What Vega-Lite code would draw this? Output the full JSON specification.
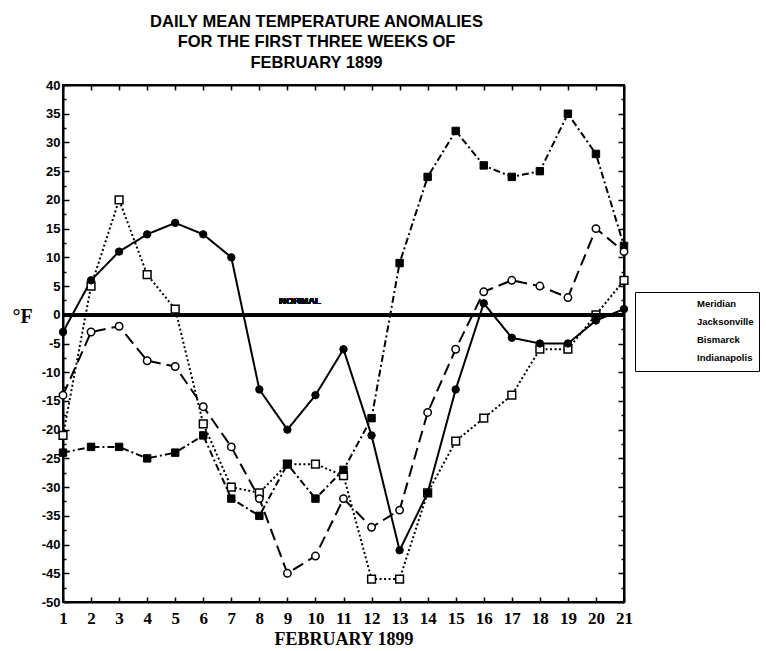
{
  "$schema": "https://vega.github.io/schema/vega-lite/v6.json",
  "width": 561,
  "height": 517,
  "autosize": {"type": "none"},
  "padding": {"left": 63, "top": 85, "right": 142, "bottom": 49},
  "background": "white",
  "config": {
    "view": {"stroke": "black", "strokeWidth": 2},
    "font": "Liberation Sans"
  },
  "title": {
    "text": ["DAILY MEAN TEMPERATURE ANOMALIES", "FOR THE FIRST THREE WEEKS OF", "FEBRUARY 1899"],
    "font": "Liberation Sans",
    "fontSize": 16.5,
    "fontWeight": "bold",
    "color": "black",
    "anchor": "middle",
    "dx": -27,
    "lineHeight": 20.5,
    "offset": 8
  },
  "datasets": {
    "temps": [
      {"day": 1, "series": "Meridian", "value": -21},
      {"day": 2, "series": "Meridian", "value": 5},
      {"day": 3, "series": "Meridian", "value": 20},
      {"day": 4, "series": "Meridian", "value": 7},
      {"day": 5, "series": "Meridian", "value": 1},
      {"day": 6, "series": "Meridian", "value": -19},
      {"day": 7, "series": "Meridian", "value": -30},
      {"day": 8, "series": "Meridian", "value": -31},
      {"day": 9, "series": "Meridian", "value": -26},
      {"day": 10, "series": "Meridian", "value": -26},
      {"day": 11, "series": "Meridian", "value": -28},
      {"day": 12, "series": "Meridian", "value": -46},
      {"day": 13, "series": "Meridian", "value": -46},
      {"day": 14, "series": "Meridian", "value": -31},
      {"day": 15, "series": "Meridian", "value": -22},
      {"day": 16, "series": "Meridian", "value": -18},
      {"day": 17, "series": "Meridian", "value": -14},
      {"day": 18, "series": "Meridian", "value": -6},
      {"day": 19, "series": "Meridian", "value": -6},
      {"day": 20, "series": "Meridian", "value": 0},
      {"day": 21, "series": "Meridian", "value": 6},
      {"day": 1, "series": "Jacksonville", "value": -3},
      {"day": 2, "series": "Jacksonville", "value": 6},
      {"day": 3, "series": "Jacksonville", "value": 11},
      {"day": 4, "series": "Jacksonville", "value": 14},
      {"day": 5, "series": "Jacksonville", "value": 16},
      {"day": 6, "series": "Jacksonville", "value": 14},
      {"day": 7, "series": "Jacksonville", "value": 10},
      {"day": 8, "series": "Jacksonville", "value": -13},
      {"day": 9, "series": "Jacksonville", "value": -20},
      {"day": 10, "series": "Jacksonville", "value": -14},
      {"day": 11, "series": "Jacksonville", "value": -6},
      {"day": 12, "series": "Jacksonville", "value": -21},
      {"day": 13, "series": "Jacksonville", "value": -41},
      {"day": 14, "series": "Jacksonville", "value": -31},
      {"day": 15, "series": "Jacksonville", "value": -13},
      {"day": 16, "series": "Jacksonville", "value": 2},
      {"day": 17, "series": "Jacksonville", "value": -4},
      {"day": 18, "series": "Jacksonville", "value": -5},
      {"day": 19, "series": "Jacksonville", "value": -5},
      {"day": 20, "series": "Jacksonville", "value": -1},
      {"day": 21, "series": "Jacksonville", "value": 1},
      {"day": 1, "series": "Bismarck", "value": -24},
      {"day": 2, "series": "Bismarck", "value": -23},
      {"day": 3, "series": "Bismarck", "value": -23},
      {"day": 4, "series": "Bismarck", "value": -25},
      {"day": 5, "series": "Bismarck", "value": -24},
      {"day": 6, "series": "Bismarck", "value": -21},
      {"day": 7, "series": "Bismarck", "value": -32},
      {"day": 8, "series": "Bismarck", "value": -35},
      {"day": 9, "series": "Bismarck", "value": -26},
      {"day": 10, "series": "Bismarck", "value": -32},
      {"day": 11, "series": "Bismarck", "value": -27},
      {"day": 12, "series": "Bismarck", "value": -18},
      {"day": 13, "series": "Bismarck", "value": 9},
      {"day": 14, "series": "Bismarck", "value": 24},
      {"day": 15, "series": "Bismarck", "value": 32},
      {"day": 16, "series": "Bismarck", "value": 26},
      {"day": 17, "series": "Bismarck", "value": 24},
      {"day": 18, "series": "Bismarck", "value": 25},
      {"day": 19, "series": "Bismarck", "value": 35},
      {"day": 20, "series": "Bismarck", "value": 28},
      {"day": 21, "series": "Bismarck", "value": 12},
      {"day": 1, "series": "Indianapolis", "value": -14},
      {"day": 2, "series": "Indianapolis", "value": -3},
      {"day": 3, "series": "Indianapolis", "value": -2},
      {"day": 4, "series": "Indianapolis", "value": -8},
      {"day": 5, "series": "Indianapolis", "value": -9},
      {"day": 6, "series": "Indianapolis", "value": -16},
      {"day": 7, "series": "Indianapolis", "value": -23},
      {"day": 8, "series": "Indianapolis", "value": -32},
      {"day": 9, "series": "Indianapolis", "value": -45},
      {"day": 10, "series": "Indianapolis", "value": -42},
      {"day": 11, "series": "Indianapolis", "value": -32},
      {"day": 12, "series": "Indianapolis", "value": -37},
      {"day": 13, "series": "Indianapolis", "value": -34},
      {"day": 14, "series": "Indianapolis", "value": -17},
      {"day": 15, "series": "Indianapolis", "value": -6},
      {"day": 16, "series": "Indianapolis", "value": 4},
      {"day": 17, "series": "Indianapolis", "value": 6},
      {"day": 18, "series": "Indianapolis", "value": 5},
      {"day": 19, "series": "Indianapolis", "value": 3},
      {"day": 20, "series": "Indianapolis", "value": 15},
      {"day": 21, "series": "Indianapolis", "value": 11}
    ]
  },
  "data": {"name": "temps"},
  "resolve": {"axis": {"x": "independent", "y": "independent"}},
  "layer": [
    {
      "mark": {"type": "line", "color": "black", "strokeWidth": 2},
      "encoding": {
        "x": {
          "field": "day", "type": "quantitative",
          "scale": {"domain": [1, 21], "nice": false, "zero": false},
          "axis": {
            "orient": "bottom",
            "values": [1,2,3,4,5,6,7,8,9,10,11,12,13,14,15,16,17,18,19,20,21],
            "format": "d",
            "grid": false,
            "domain": true, "domainColor": "black", "domainWidth": 2,
            "ticks": true, "tickSize": -5, "tickColor": "black", "tickWidth": 1.5,
            "labelFont": "Liberation Serif", "labelFontSize": 17, "labelFontWeight": "bold", "labelColor": "black",
            "labelPadding": 13, "labelFlush": false, "labelOverlap": false,
            "title": "FEBRUARY 1899",
            "titleFont": "Liberation Serif", "titleFontSize": 18, "titleFontWeight": "bold", "titleColor": "black",
            "titlePadding": 4
          }
        },
        "y": {
          "field": "value", "type": "quantitative",
          "scale": {"domain": [-50, 40], "nice": false, "zero": false},
          "axis": {
            "orient": "left",
            "values": [-50,-47.5,-45,-42.5,-40,-37.5,-35,-32.5,-30,-27.5,-25,-22.5,-20,-17.5,-15,-12.5,-10,-7.5,-5,-2.5,0,2.5,5,7.5,10,12.5,15,17.5,20,22.5,25,27.5,30,32.5,35,37.5,40],
            "labelExpr": "datum.value % 5 === 0 ? toString(datum.value) : ''",
            "grid": false,
            "domain": true, "domainColor": "black", "domainWidth": 2,
            "ticks": true,
            "tickSize": {"condition": {"test": "datum.value % 5 === 0", "value": -6}, "value": -3},
            "tickColor": "black", "tickWidth": 1.5,
            "labelFont": "Liberation Sans", "labelFontSize": 13, "labelFontWeight": "bold", "labelColor": "black",
            "labelPadding": 9, "labelOverlap": false,
            "title": "°F",
            "titleFont": "Liberation Serif", "titleFontSize": 20, "titleFontWeight": "bold", "titleColor": "black",
            "titleAngle": 0, "titleAlign": "center", "titleBaseline": "middle",
            "titleX": -41, "titleY": 231
          }
        },
        "strokeDash": {
          "field": "series", "type": "nominal", "legend": null,
          "scale": {"domain": ["Bismarck", "Indianapolis", "Jacksonville", "Meridian"],
                    "range": [[7, 3, 2, 3], [12, 6], [1, 0], [2, 2.5]]}
        }
      }
    },
    {
      "transform": [{"filter": "datum.series === 'Meridian'"}],
      "mark": {"type": "point", "shape": "square", "size": 60, "filled": true, "fill": "white", "stroke": "black", "strokeWidth": 1.5, "opacity": 1},
      "encoding": {
        "x": {
          "field": "day", "type": "quantitative",
          "axis": {
            "orient": "top",
            "values": [1,2,3,4,5,6,7,8,9,10,11,12,13,14,15,16,17,18,19,20,21],
            "labels": false, "grid": false, "title": null,
            "domain": true, "domainColor": "black", "domainWidth": 2,
            "ticks": true, "tickSize": -5, "tickColor": "black", "tickWidth": 1.5
          }
        },
        "y": {
          "field": "value", "type": "quantitative",
          "axis": {
            "orient": "right",
            "values": [-50,-47.5,-45,-42.5,-40,-37.5,-35,-32.5,-30,-27.5,-25,-22.5,-20,-17.5,-15,-12.5,-10,-7.5,-5,-2.5,0,2.5,5,7.5,10,12.5,15,17.5,20,22.5,25,27.5,30,32.5,35,37.5,40],
            "labels": false, "grid": false, "title": null,
            "domain": true, "domainColor": "black", "domainWidth": 2,
            "ticks": true,
            "tickSize": {"condition": {"test": "datum.value % 5 === 0", "value": -6}, "value": -3},
            "tickColor": "black", "tickWidth": 1.5
          }
        }
      }
    },
    {
      "mark": {"type": "rule", "color": "black", "strokeWidth": 3},
      "encoding": {"y": {"datum": 0, "type": "quantitative", "axis": null}}
    },
    {
      "mark": {"type": "text", "text": "NORMAL", "font": "Liberation Sans", "fontSize": 9.5, "fontWeight": "bold", "color": "black", "baseline": "bottom", "align": "center", "dy": -9},
      "encoding": {
        "x": {"datum": 9.45, "type": "quantitative", "axis": null},
        "y": {"datum": 0, "type": "quantitative", "axis": null}
      }
    },
    {
      "transform": [{"filter": "datum.series === 'Jacksonville'"}],
      "mark": {"type": "point", "shape": "circle", "size": 55, "filled": true, "fill": "black", "stroke": "black", "strokeWidth": 1, "opacity": 1},
      "encoding": {
        "x": {"field": "day", "type": "quantitative", "axis": null},
        "y": {"field": "value", "type": "quantitative", "axis": null}
      }
    },
    {
      "transform": [{"filter": "datum.series === 'Bismarck'"}],
      "mark": {"type": "point", "shape": "square", "size": 55, "filled": true, "fill": "black", "stroke": "black", "strokeWidth": 1, "opacity": 1},
      "encoding": {
        "x": {"field": "day", "type": "quantitative", "axis": null},
        "y": {"field": "value", "type": "quantitative", "axis": null}
      }
    },
    {
      "transform": [{"filter": "datum.series === 'Indianapolis'"}],
      "mark": {"type": "point", "shape": "circle", "size": 55, "filled": true, "fill": "white", "stroke": "black", "strokeWidth": 1.5, "opacity": 1},
      "encoding": {
        "x": {"field": "day", "type": "quantitative", "axis": null},
        "y": {"field": "value", "type": "quantitative", "axis": null}
      }
    },
    {
      "transform": [{"filter": "datum.day === 0"}],
      "mark": {"type": "point", "filled": true, "fill": "white", "stroke": "black", "strokeWidth": 1.5, "opacity": 1},
      "encoding": {
        "x": {"field": "day", "type": "quantitative", "axis": null},
        "y": {"field": "value", "type": "quantitative", "axis": null},
        "shape": {
          "field": "series", "type": "nominal",
          "scale": {
            "domain": ["Meridian", "Jacksonville", "Bismarck", "Indianapolis"],
            "range": [
              "M-1,0H-0.67M-0.33,0H0M0.33,0H0.67M1,0H1.33M1.67,0H2M2.08,-0.67H3.42V0.67H2.08ZM3.5,0H3.83M4.17,0H4.5M4.83,0H5.17M5.5,0H5.83M6.17,0H6.5",
              "M3.42,0L3.33,0.335L3.085,0.58L2.75,0.67L2.415,0.58L2.17,0.335L2.08,0L2.17,-0.335L2.415,-0.58L2.75,-0.67L3.085,-0.58L3.33,-0.335ZM-1,0H6.5M2.3,-0.5H3.2M2.13,-0.25H3.37M2.13,0.25H3.37M2.3,0.5H3.2",
              "M2.08,-0.67H3.42V0.67H2.08ZM2.08,-0.42H3.42M2.08,-0.17H3.42M2.08,0.08H3.42M2.08,0.33H3.42M-1,0H0.6M1,0H1.3M3.8,0H4.1M4.5,0H6.5",
              "M3.42,0L3.33,0.335L3.085,0.58L2.75,0.67L2.415,0.58L2.17,0.335L2.08,0L2.17,-0.335L2.415,-0.58L2.75,-0.67L3.085,-0.58L3.33,-0.335ZM-1,0H1.2M4.3,0H5.1M5.7,0H6.5"
            ]
          },
          "legend": {
            "title": null, "orient": "none", "legendX": 572, "legendY": 207,
            "padding": 5, "strokeColor": "black", "fillColor": "white",
            "symbolSize": 144, "symbolStrokeColor": "black", "symbolFillColor": "white",
            "labelOffset": 43,
            "labelFont": "Liberation Sans", "labelFontSize": 9.5, "labelFontWeight": "bold", "labelColor": "black"
          }
        }
      }
    }
  ]
}
